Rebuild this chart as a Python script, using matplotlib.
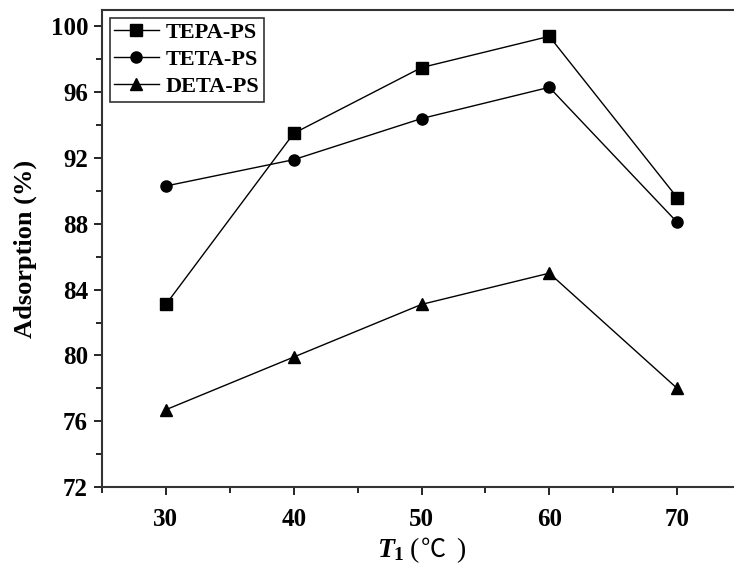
import matplotlib
matplotlib.use('Agg')
from matplotlib import pyplot as plt
from matplotlib.ticker import MultipleLocator

plt.rcParams['font.family'] = ['Liberation Serif', 'Noto Sans CJK SC', 'DejaVu Sans']
plt.rcParams['font.weight'] = 'bold'
plt.rcParams['mathtext.fontset'] = 'custom'
plt.rcParams['mathtext.it'] = 'Liberation Serif:italic:bold'
plt.rcParams['mathtext.bf'] = 'Liberation Serif:bold'
plt.rcParams['mathtext.rm'] = 'Liberation Serif:bold'

temperature = [30, 40, 50, 60, 70]
tepa_ps = [83.1, 93.5, 97.5, 99.4, 89.6]
teta_ps = [90.3, 91.9, 94.4, 96.3, 88.1]
deta_ps = [76.7, 79.9, 83.1, 85.0, 78.0]

W, H = 734, 571
fig = plt.figure(figsize=(W / 100, H / 100), dpi=100)
ax = fig.add_axes([102 / W, 1 - 487 / H, 639 / W, 477 / H])

ax.plot(temperature, tepa_ps, color='black', lw=1, marker='s', ms=8, label='TEPA-PS')
ax.plot(temperature, teta_ps, color='black', lw=1, marker='o', ms=8, label='TETA-PS')
ax.plot(temperature, deta_ps, color='black', lw=1, marker='^', ms=9, label='DETA-PS')

ax.set_xlim(25, 75)
ax.set_ylim(72, 101)
ax.xaxis.set_major_locator(MultipleLocator(10))
ax.xaxis.set_minor_locator(MultipleLocator(5))
ax.yaxis.set_major_locator(MultipleLocator(4))
ax.yaxis.set_minor_locator(MultipleLocator(2))
ax.tick_params(which='major', direction='out', length=6, width=1.2, labelsize=18)
ax.tick_params(which='minor', direction='out', length=4, width=1.2)
ax.tick_params(axis='x', pad=9)
ax.tick_params(axis='y', pad=4)
for s in ax.spines.values():
    s.set_linewidth(1.5)
    s.set_color('#333333')

ax.set_ylabel('Adsorption (%)', fontsize=19, fontweight='bold', labelpad=10)

# x label: italic T with subscript, then (℃) built from pieces
y_lab = 1 - 557 / H
fig.text(405 / W, y_lab, '$\\mathit{T}_{\\mathbf{1}}$', fontsize=20, ha='right', va='baseline')
fig.text(410 / W, y_lab, '(', fontsize=20, ha='left', va='baseline', fontweight='normal')
fig.text(421 / W, y_lab, '℃', fontsize=18, ha='left', va='baseline', fontweight='normal')
fig.text(456 / W, y_lab, ')', fontsize=20, ha='left', va='baseline', fontweight='normal')

leg = ax.legend(loc='upper left', fontsize=16, handlelength=2.0, frameon=True, fancybox=False,
                borderpad=0.2, labelspacing=0.3, handletextpad=0.3, borderaxespad=0.35)
leg.get_frame().set_edgecolor('black')
leg.get_frame().set_linewidth(1.2)

fig.savefig('out.png', dpi=100)
